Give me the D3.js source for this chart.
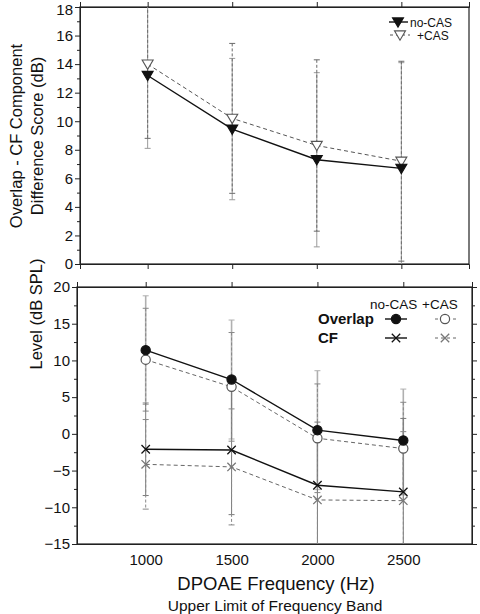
<!DOCTYPE html>
<html><head><meta charset="utf-8">
<script src="https://cdn.jsdelivr.net/npm/d3@7"></script>
<style>body{margin:0;background:#fff}svg{display:block;font-family:"Liberation Sans",Arial,sans-serif}</style>
</head><body><svg id="c" width="480" height="614"></svg>
<script>
const freqs = [1000, 1500, 2000, 2500];
const freqTicks = [1000, 1500, 2000, 2500];
// Top panel: Overlap - CF difference score (dB)
const diffNoCAS = [13.2, 9.45, 7.3, 6.7];
const diffNoCASsd = [5.1, 4.95, 6.1, 7.4];
const diffCAS = [14.0, 10.2, 8.3, 7.2];
const diffCASsd = [5.2, 5.25, 6.0, 7.0];
// Bottom panel: Level (dB SPL)
const overlapNoCAS = [11.4, 7.4, 0.5, -0.9];
const overlapNoCASsd = [7.4, 8.1, 8.1, 7.0];
const overlapCAS = [10.1, 6.4, -0.6, -2.0];
const overlapCASsd = [7.0, 7.4, 7.4, 6.3];
const cfNoCAS = [-2.1, -2.2, -7.0, -7.9];
const cfNoCASsd = [6.3, 8.8, 8.6, 10.0];
const cfCAS = [-4.15, -4.5, -9.0, -9.1];
const cfCASsd = [6.1, 7.9, 10.0, 9.4];
const topTicks = [0, 2, 4, 6, 8, 10, 12, 14, 16, 18];
const botTicks = [-15, -10, -5, 0, 5, 10, 15, 20];

const svg = d3.select("#c");
const FONT = "Liberation Sans, Arial, sans-serif";

function panel(o) {
  const x = d3.scaleLinear().domain([600, 2900]).range([o.left, o.right]);
  const y = d3.scaleLinear().domain(o.ydom).range([o.bottom, o.top]);
  const g = svg.append("g");
  const cid = "clip" + o.id;
  svg.append("defs").append("clipPath").attr("id", cid).append("rect")
    .attr("x", o.left).attr("y", o.top).attr("width", o.right - o.left).attr("height", o.bottom - o.top);
  const axL = d3.axisLeft(y).tickValues(o.yticks).tickSize(5).tickPadding(2).tickFormat(d3.format("d"));
  g.append("g").attr("class", "yl").attr("transform", `translate(${o.left},0)`).call(axL);
  g.append("g").attr("transform", `translate(${o.left},0)`).call(d3.axisLeft(y).tickValues(o.yminor).tickSize(3).tickFormat(""));
  if (o.rightTicks) {
    g.append("g").attr("transform", `translate(${o.right},0)`).call(d3.axisRight(y).tickValues(o.yticks).tickSize(5).tickFormat(""));
    g.append("g").attr("transform", `translate(${o.right},0)`).call(d3.axisRight(y).tickValues(o.yminor).tickSize(3).tickFormat(""));
  }
  g.append("g").attr("transform", `translate(0,${o.top})`).call(d3.axisTop(x).tickValues(freqTicks).tickSize(5).tickFormat(""));
  g.append("g").attr("transform", `translate(0,${o.bottom})`)
    .call(d3.axisBottom(x).tickValues(freqTicks).tickSize(o.xlabels ? 0 : 5).tickPadding(10).tickFormat(o.xlabels ? d3.format("d") : ""));
  g.selectAll(".domain").attr("stroke", "#222");
  g.selectAll(".tick line").attr("stroke", "#222");
  g.selectAll(".tick text").attr("font-family", FONT).attr("font-size", 15).attr("fill", "#111");
  g.append("rect").attr("x", o.left).attr("y", o.top).attr("width", o.right - o.left).attr("height", o.bottom - o.top)
    .attr("fill", "none").attr("stroke", "#222").attr("stroke-width", 1.2);
  const pg = svg.append("g").attr("clip-path", `url(#${cid})`);
  return {x, y, g, pg};
}

function errbars(P, vals, sds, color, dash, width) {
  const gg = P.pg.append("g").attr("stroke", color).attr("stroke-width", width).attr("fill", "none");
  freqs.forEach((f, i) => {
    const cx = P.x(f), y1 = P.y(vals[i] + sds[i]), y2 = P.y(vals[i] - sds[i]);
    gg.append("line").attr("x1", cx).attr("x2", cx).attr("y1", y1).attr("y2", y2).attr("stroke-dasharray", dash);
    [y1, y2].forEach(yy => gg.append("line").attr("x1", cx - 3).attr("x2", cx + 3).attr("y1", yy).attr("y2", yy).attr("stroke-width", 1));
  });
}
function series(P, vals, color, dash, width) {
  const line = d3.line().x((d, i) => P.x(freqs[i])).y(d => P.y(d));
  P.pg.append("path").datum(vals).attr("d", line).attr("fill", "none").attr("stroke", color)
    .attr("stroke-width", width).attr("stroke-dasharray", dash);
}
function tri(g, cx, cy, fill, stroke) {
  const s = 5.5;
  g.append("path").attr("d", `M${cx - s},${cy - s * 0.75}L${cx + s},${cy - s * 0.75}L${cx},${cy + s * 0.95}Z`)
    .attr("fill", fill).attr("stroke", stroke).attr("stroke-width", 1.1);
}
function circ(g, cx, cy, fill, stroke) {
  g.append("circle").attr("cx", cx).attr("cy", cy).attr("r", 4.6).attr("fill", fill).attr("stroke", stroke).attr("stroke-width", 1.2);
}
function xm(g, cx, cy, stroke) {
  const s = 4.2;
  g.append("path").attr("d", `M${cx - s},${cy - s}L${cx + s},${cy + s}M${cx - s},${cy + s}L${cx + s},${cy - s}`)
    .attr("stroke", stroke).attr("stroke-width", 1.3).attr("fill", "none");
}

// ---------- Top panel ----------
const T = panel({id: "t", left: 80, right: 469, top: 7, bottom: 264, ydom: [0, 18], yticks: topTicks,
  yminor: d3.range(1, 18, 2), rightTicks: false, xlabels: false});
T.g.selectAll(".yl .tick text").filter(d => d === 18).attr("dy", "0.5em");
errbars(T, diffNoCAS, diffNoCASsd, "#9a9a9a", null, 1);
errbars(T, diffCAS, diffCASsd, "#6a6a6a", "3,2", 1);
series(T, diffCAS, "#555", "4,3", 1);
series(T, diffNoCAS, "#111", null, 1.4);
freqs.forEach((f, i) => tri(T.pg, T.x(f), T.y(diffCAS[i]), "#fff", "#555"));
freqs.forEach((f, i) => tri(T.pg, T.x(f), T.y(diffNoCAS[i]), "#111", "#111"));
// legend
const lt = svg.append("g");
lt.append("line").attr("x1", 389).attr("x2", 408).attr("y1", 22).attr("y2", 22).attr("stroke", "#111").attr("stroke-width", 1.4);
tri(lt, 398, 22, "#111", "#111");
lt.append("line").attr("x1", 390).attr("x2", 410).attr("y1", 35).attr("y2", 35).attr("stroke", "#555").attr("stroke-dasharray", "3,3");
tri(lt, 400, 35, "#fff", "#555");
lt.append("text").attr("x", 410).attr("y", 26.5).text("no-CAS");
lt.append("text").attr("x", 417).attr("y", 40).text("+CAS");
lt.selectAll("text").attr("font-family", FONT).attr("font-size", 12).attr("fill", "#111");

// ---------- Bottom panel ----------
const B = panel({id: "b", left: 77, right: 472, top: 287, bottom: 544, ydom: [-15, 20], yticks: botTicks,
  yminor: d3.range(-12.5, 20, 5), rightTicks: true, xlabels: true});
errbars(B, overlapNoCAS, overlapNoCASsd, "#b0b0b0", null, 1.6);
errbars(B, overlapCAS, overlapCASsd, "#888", "3,2", 1);
errbars(B, cfNoCAS, cfNoCASsd, "#7a7a7a", null, 1);
errbars(B, cfCAS, cfCASsd, "#888", "3,2", 1);
series(B, overlapCAS, "#666", "4,3", 1);
series(B, cfCAS, "#666", "4,3", 1);
series(B, overlapNoCAS, "#111", null, 1.4);
series(B, cfNoCAS, "#111", null, 1.4);
freqs.forEach((f, i) => circ(B.pg, B.x(f), B.y(overlapCAS[i]), "#fff", "#555"));
freqs.forEach((f, i) => circ(B.pg, B.x(f), B.y(overlapNoCAS[i]), "#111", "#111"));
freqs.forEach((f, i) => xm(B.pg, B.x(f), B.y(cfCAS[i]), "#777"));
freqs.forEach((f, i) => xm(B.pg, B.x(f), B.y(cfNoCAS[i]), "#111"));
// legend
const lb = svg.append("g");
lb.append("text").attr("x", 370).attr("y", 309).text("no-CAS").attr("font-size", 13.5);
lb.append("text").attr("x", 422).attr("y", 309).text("+CAS").attr("font-size", 13.5);
lb.append("text").attr("x", 318).attr("y", 324).text("Overlap").attr("font-weight", "bold").attr("font-size", 15);
lb.append("text").attr("x", 318).attr("y", 343).text("CF").attr("font-weight", "bold").attr("font-size", 15);
lb.selectAll("text").attr("font-family", FONT).attr("fill", "#111");
lb.append("line").attr("x1", 385).attr("x2", 407).attr("y1", 319).attr("y2", 319).attr("stroke", "#111").attr("stroke-width", 1.4);
circ(lb, 396, 319, "#111", "#111");
lb.append("line").attr("x1", 435).attr("x2", 456).attr("y1", 319).attr("y2", 319).attr("stroke", "#666").attr("stroke-dasharray", "3,3");
circ(lb, 445, 319, "#fff", "#555");
lb.append("line").attr("x1", 385).attr("x2", 407).attr("y1", 338).attr("y2", 338).attr("stroke", "#111").attr("stroke-width", 1.4);
xm(lb, 396, 338, "#111");
lb.append("line").attr("x1", 435).attr("x2", 456).attr("y1", 338).attr("y2", 338).attr("stroke", "#666").attr("stroke-dasharray", "3,3");
xm(lb, 445, 338, "#777");

// ---------- Axis titles ----------
const at = svg.append("g").attr("font-family", FONT).attr("fill", "#111").attr("text-anchor", "middle");
at.append("text").attr("transform", "translate(22,136) rotate(-90)").attr("font-size", 16.5).text("Overlap - CF Component");
at.append("text").attr("transform", "translate(43,136) rotate(-90)").attr("font-size", 16.5).text("Difference Score (dB)");
at.append("text").attr("transform", "translate(42,314) rotate(-90)").attr("font-size", 16.5).text("Level (dB SPL)");
at.append("text").attr("x", 276).attr("y", 590).attr("font-size", 18.5).text("DPOAE Frequency (Hz)");
at.append("text").attr("x", 275).attr("y", 611).attr("font-size", 15.5).text("Upper Limit of Frequency Band");
</script></body></html>
